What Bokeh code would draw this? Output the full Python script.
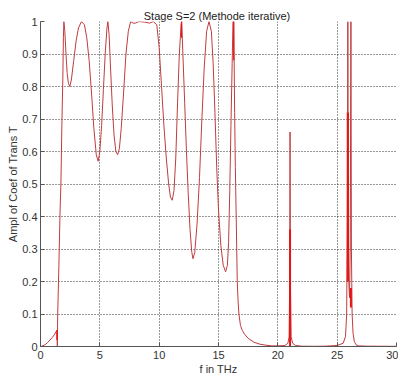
from bokeh.plotting import figure
from bokeh.models import Range1d, FixedTicker, Title
from bokeh.embed import file_html
from bokeh.resources import INLINE

# frequency (THz) and transmission amplitude
freq = [0.0, 0.2, 0.4, 0.6, 0.8, 1.0, 1.2, 1.38, 1.42, 1.45, 1.55, 1.65, 1.72, 1.8, 1.88, 1.93, 1.97,
        2.05, 2.15, 2.25, 2.35, 2.47, 2.6, 2.8, 3.0, 3.2, 3.45, 3.7, 3.9, 4.1, 4.3, 4.5, 4.7, 4.86,
        5.0, 5.15, 5.3, 5.45, 5.6, 5.68, 5.78, 5.9, 6.05, 6.2, 6.35, 6.5, 6.65, 6.8, 7.0, 7.2, 7.4,
        7.6, 7.8, 8.0, 8.3, 8.8, 9.2, 9.5, 9.8, 10.0, 10.2, 10.4, 10.6, 10.8, 10.95, 11.1, 11.25,
        11.4, 11.55, 11.7, 11.85, 11.9, 12.0, 12.15, 12.3, 12.45, 12.6, 12.75, 12.85, 13.0, 13.2,
        13.4, 13.6, 13.8, 14.0, 14.2, 14.4, 14.55, 14.7, 14.85, 15.0, 15.2, 15.4, 15.6, 15.75,
        15.85, 15.95, 16.05, 16.15, 16.22, 16.28, 16.32, 16.36, 16.42, 16.5, 16.58, 16.65, 16.72,
        16.85, 17.0, 17.2, 17.5, 18.0, 18.5, 19.0, 19.5, 20.0, 20.6, 20.85, 20.95, 21.0, 21.03,
        21.06, 21.12, 21.25, 21.5, 22.0, 23.0, 24.0, 25.0, 25.5, 25.7, 25.8, 25.86, 25.9, 25.94,
        25.98, 26.04, 26.1, 26.16, 26.2, 26.26, 26.34, 26.45, 26.6, 26.8, 27.5, 30.0]
trans = [0.0, 0.002, 0.006, 0.012, 0.02, 0.028, 0.038, 0.05, 0.0, 0.1, 0.25, 0.42, 0.5, 0.68, 0.82,
         0.95, 1.0, 0.97, 0.9, 0.84, 0.81, 0.8, 0.82, 0.88, 0.94, 0.98, 1.0, 0.99, 0.95, 0.88, 0.78,
         0.67, 0.59, 0.57, 0.6, 0.68, 0.79, 0.9, 0.98, 1.0, 0.96, 0.86, 0.74, 0.65, 0.6, 0.59, 0.61,
         0.67, 0.78, 0.9, 0.97, 1.0, 0.995, 0.995, 1.0, 0.998, 0.995, 1.0, 0.99, 0.92, 0.8, 0.68,
         0.58, 0.5, 0.46, 0.45, 0.48, 0.58, 0.75, 0.9, 0.99, 1.0, 0.9, 0.75, 0.6, 0.47, 0.36, 0.29,
         0.27, 0.29, 0.38, 0.52, 0.7, 0.86, 0.97, 1.0, 0.97, 0.87, 0.72, 0.55, 0.42, 0.31, 0.25,
         0.23, 0.25, 0.32, 0.48, 0.68, 0.87, 1.0, 1.0, 0.88, 0.72, 0.55, 0.38, 0.2, 0.14, 0.1, 0.065,
         0.05, 0.038, 0.025, 0.013, 0.007, 0.004, 0.002, 0.002, 0.003, 0.01, 0.03, 0.2, 0.66, 0.2,
         0.03, 0.01, 0.003, 0.001, 0.0005, 0.001, 0.003, 0.01, 0.03, 0.1, 0.4, 1.0, 0.4, 0.2, 0.15,
         0.3, 1.0, 0.3, 0.1, 0.04, 0.015, 0.005, 0.002, 0.001, 0.0005]

# bright red overlay segments (x pairs / y pairs)
over_x = [[1.40, 1.40], [11.88, 11.88], [16.28, 16.28], [21.03, 21.03], [25.9, 25.9], [26.16, 26.16]]
over_y = [[0.02, 0.05], [0.95, 1.0], [0.88, 1.0], [0.0, 0.36], [0.2, 0.72], [0.12, 0.18]]
over_w = [1.5, 1.2, 1.2, 2.0, 2.2, 2.0]

x_ticks = [0, 5, 10, 15, 20, 25, 30]
y_ticks = [0, 0.1, 0.2, 0.3, 0.4, 0.5, 0.6, 0.7, 0.8, 0.9, 1.0]
title_text = "Stage S=2  (Methode iterative)"

FONT = "Liberation Sans"

p = figure(width=398, height=385, output_backend="svg", toolbar_location=None,
           x_range=Range1d(0, 30), y_range=Range1d(0, 1),
           min_border_left=40, min_border_right=2, min_border_top=21, min_border_bottom=39)
p.title = Title(text=title_text, align="center",
                text_font=FONT, text_font_size="11px", text_font_style="normal",
                text_color="#222222", standoff=0, offset=4)
p.outline_line_color = None
p.background_fill_color = "white"
p.border_fill_color = "white"

xb = p.below[0]
yl = p.left[0]

p.line(freq, trans, line_color="#bf3c3e", line_width=1.0)
p.multi_line(over_x, over_y, line_color="#e81414", line_width=over_w)

for ax in (xb, yl):
    ax.axis_line_color = "#555555"
    ax.major_tick_in = 4
    ax.major_tick_out = 0
    ax.major_tick_line_color = "#555555"
    ax.minor_tick_line_color = None
    ax.major_label_text_font = FONT
    ax.major_label_text_font_size = "11px"
    ax.major_label_text_color = "#333333"
    ax.axis_label_text_font = FONT
    ax.axis_label_text_font_size = "11px"
    ax.axis_label_text_font_style = "normal"
    ax.axis_label_text_color = "#333333"

xb.ticker = FixedTicker(ticks=x_ticks)
yl.ticker = FixedTicker(ticks=y_ticks)
yl.major_label_overrides = {0: "0", 1: "1"}
xb.axis_label = "f in THz"
yl.axis_label = "Ampl of Coef of Trans T"
xb.major_label_standoff = 4
xb.axis_label_standoff = 1
yl.major_label_standoff = 3
yl.axis_label_standoff = 0

for g, t in ((p.xgrid[0], x_ticks), (p.ygrid[0], y_ticks)):
    g.grid_line_color = "black"
    g.grid_line_dash = "1 2"
    g.grid_line_alpha = 0.8
    g.ticker = FixedTicker(ticks=t)

open("out.html", "w").write(file_html(p, INLINE))
